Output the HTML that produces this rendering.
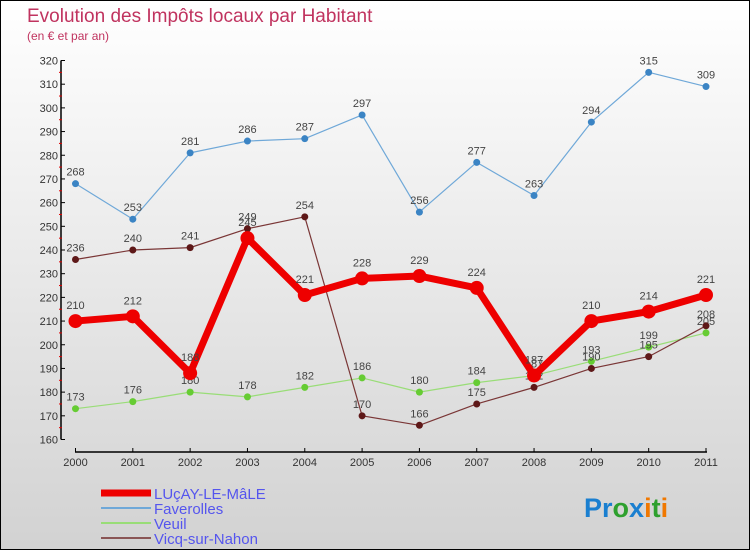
<!DOCTYPE html>
<html><head><meta charset="utf-8"><style>
html,body{margin:0;padding:0}
body{width:750px;height:550px;overflow:hidden;font-family:"Liberation Sans",sans-serif}
#wrap{position:relative;width:748px;height:548px;border:1px solid #000;background:linear-gradient(#ffffff,#d2d2d2)}
svg text{font-family:"Liberation Sans",sans-serif}
</style></head><body>
<div id="wrap">
<svg id="chart" width="748" height="548" xmlns="http://www.w3.org/2000/svg">
<text x="26" y="21" font-size="19" fill="#c0335f">Evolution des Impôts locaux par Habitant</text>
<text x="26" y="39" font-size="12" fill="#c0335f">(en € et par an)</text>
<g id="axes"></g><g id="series"></g><g id="legend"></g>
<text x="583" y="516" font-size="27" font-weight="bold"><tspan fill="#1a7fd0">Pr</tspan><tspan fill="#2ea02e">o</tspan><tspan fill="#1a7fd0">x</tspan><tspan fill="#f07800">i</tspan><tspan fill="#2ea02e">t</tspan><tspan fill="#f07800">i</tspan></text>
</svg></div>
<script>
const years=[2000,2001,2002,2003,2004,2005,2006,2007,2008,2009,2010,2011];
const lucay=[210,212,188,245,221,228,229,224,187,210,214,221];
const faverolles=[268,253,281,286,287,297,256,277,263,294,315,309];
const veuil=[173,176,180,178,182,186,180,184,187,193,199,205];
const vicq=[236,240,241,249,254,170,166,175,182,190,195,208];
const yTicks=[160,170,180,190,200,210,220,230,240,250,260,270,280,290,300,310,320];
const NS="http://www.w3.org/2000/svg";
const X=i=>74.5+i*(705-74.5)/(years.length-1);
const Y=v=>438.5-(v-160)*(438.5-59.5)/160;
function mk(tag,attrs,parent){const e=document.createElementNS(NS,tag);for(const k in attrs)e.setAttribute(k,attrs[k]);parent.appendChild(e);return e;}
const axes=document.getElementById('axes');
let yl=mk('line',{x1:60,y1:Y(320),x2:60,y2:Y(160),stroke:'#000','stroke-width':1.5},axes);


yTicks.forEach(v=>{
  mk('line',{x1:60,y1:Y(v),x2:64,y2:Y(v),stroke:'#000'},axes);
  if(v<320)mk('line',{x1:58,y1:Y(v+5),x2:61,y2:Y(v+5),stroke:'#e00000'},axes);
  const t=mk('text',{x:57,y:Y(v)+4,'font-size':11,fill:'#333','text-anchor':'end'},axes);
  t.textContent=v;
  
  
});
let xl=mk('line',{x1:74,y1:451,x2:706,y2:451,stroke:'#000','stroke-width':1.5},axes);


years.forEach((y,i)=>{
  mk('line',{x1:X(i),y1:447,x2:X(i),y2:451,stroke:'#000'},axes);
  const t=mk('text',{x:X(i),y:465,'font-size':11,fill:'#333','text-anchor':'middle'},axes);
  t.textContent=y;
  
  
});
const S=document.getElementById('series');
function draw(vals,color,dot,w,r,name,labelOff){
  const g=mk('g',{},S);
  
  
  const p=mk('polyline',{points:vals.map((v,i)=>X(i)+','+Y(v)).join(' '),fill:'none',stroke:color,'stroke-width':w,'stroke-linejoin':'round'},g);
  
  
  vals.forEach((v,i)=>{
    const c=mk('circle',{cx:X(i),cy:Y(v),r:r,fill:dot},g);
    
    
    const t=mk('text',{x:X(i),y:Y(v)-labelOff,'font-size':11,fill:'#444','text-anchor':'middle'},g);
    t.textContent=v;
    
    
  });
}
draw(faverolles,'#6fa8d8','#3b84c4',1.2,3.5,'faverolles',8);
draw(veuil,'#99dd77','#66cc33',1.2,3.5,'veuil',8);
draw(vicq,'#7a3636','#5e1818',1.2,3.5,'vicq',8);
draw(lucay,'#ee0000','#ee0000',7,7,'lucay',12);
const L=document.getElementById('legend');
const leg=[['LUçAY-LE-MâLE','#ee0000',7],['Faverolles','#6fa8d8',2],['Veuil','#99dd77',2],['Vicq-sur-Nahon','#8a5555',2]];
leg.forEach((l,i)=>{
  const y=492+i*15;
  const ln=mk('line',{x1:100,y1:y,x2:150,y2:y,stroke:l[1],'stroke-width':l[2]},L);
  
  
  const t=mk('text',{x:153,y:y+6,'font-size':15,fill:'#5555ee'},L);
  t.textContent=l[0];
  
  
});
</script>
</body></html>
